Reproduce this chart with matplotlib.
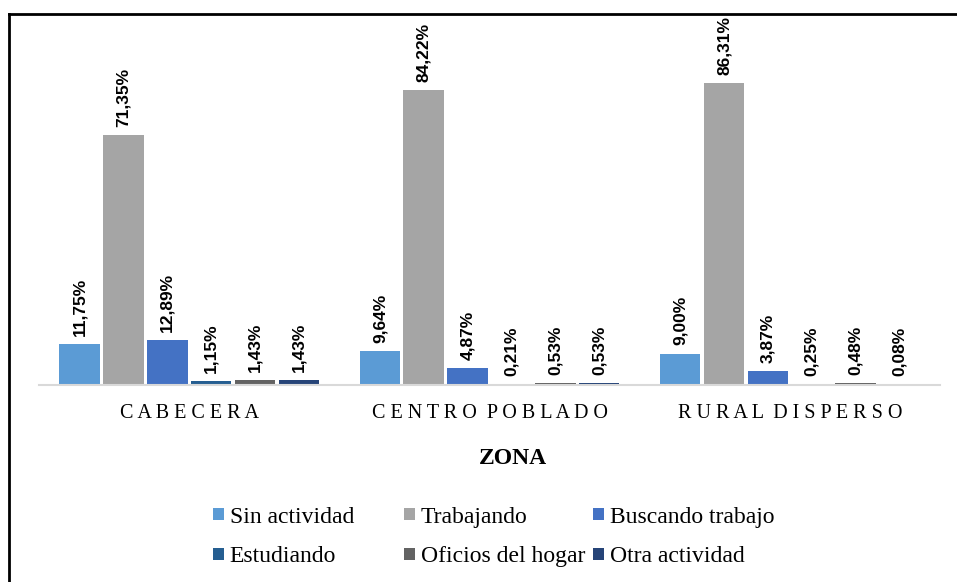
import matplotlib
matplotlib.use('Agg')
import matplotlib.pyplot as plt
from matplotlib.lines import Line2D
from matplotlib.patches import Patch
import numpy as np

# ---- data ----
zonas = ["CABECERA", "CENTRO POBLADO", "RURAL DISPERSO"]
series = ["Sin actividad", "Trabajando", "Buscando trabajo",
          "Estudiando", "Oficios del hogar", "Otra actividad"]
sin_actividad = [11.75, 9.64, 9.00]
trabajando = [71.35, 84.22, 86.31]
buscando_trabajo = [12.89, 4.87, 3.87]
estudiando = [1.15, 0.21, 0.25]
oficios_hogar = [1.43, 0.53, 0.48]
otra_actividad = [1.43, 0.53, 0.08]
values = [sin_actividad, trabajando, buscando_trabajo,
          estudiando, oficios_hogar, otra_actividad]
colors = ["#5B9BD5", "#A5A5A5", "#4472C4", "#255E91", "#636363", "#264478"]

W, H = 957, 582
fig = plt.figure(figsize=(W / 100, H / 100), dpi=100)
fig.patch.set_facecolor('white')
ax = fig.add_axes([39 / W, 1 - 385 / H, 901 / W, 350 / H])

x = np.arange(len(zonas))
slot = 0.146
bw = 0.135
handles = []
for i, (vals, c, name) in enumerate(zip(values, colors, series)):
    pos = x + (i - 2.5) * slot
    bars = ax.bar(pos, vals, bw, color=c, label=name)
    handles.append(Patch(facecolor=c, edgecolor='none', label=name))
    for b, v in zip(bars, vals):
        ax.annotate(f"{v:.2f}%".replace('.', ','),
                    (b.get_x() + b.get_width() / 2, v),
                    xytext=(0, 6), textcoords='offset points',
                    rotation=90, ha='center', va='bottom',
                    fontsize=12.5, fontweight='bold', family='Liberation Sans')

ax.set_xlim(-0.5, 2.5)
ax.set_ylim(0, 100)
ax.set_yticks([])
for s in ['top', 'right', 'left']:
    ax.spines[s].set_visible(False)
ax.spines['bottom'].set_color('#D9D9D9')
ax.spines['bottom'].set_linewidth(1.5)


def spaced(s):
    return '  '.join(' '.join(w) for w in s.split())


ax.set_xticks(x)
ax.set_xticklabels([spaced(z) for z in zonas], family='Liberation Serif', fontsize=14.5)
ax.tick_params(axis='x', length=0, pad=13.5)
ax.set_facecolor('white')

fig.text(513 / W, 1 - 458 / H, "ZONA", ha='center', va='center',
         fontsize=17, fontweight='bold', family='Liberation Serif')

# legends, one per column
cols = [(213, [0, 3]), (404, [1, 4]), (593, [2, 5])]
for xp, idx in cols:
    fig.legend(handles=[handles[k] for k in idx], loc='center left',
               bbox_to_anchor=(xp / W, 1 - 537 / H), frameon=False,
               borderpad=0, borderaxespad=0, handlelength=0.45,
               handleheight=0.45, handletextpad=0.25, labelspacing=0.8,
               prop={'family': 'Liberation Serif', 'size': 17})

# outer frame (left and top visible)
fig.add_artist(Line2D([9 / W, 9 / W], [0, 1 - 14 / H], transform=fig.transFigure,
                      color='black', lw=2))
fig.add_artist(Line2D([9 / W, 1], [1 - 14 / H, 1 - 14 / H], transform=fig.transFigure,
                      color='black', lw=2))

fig.savefig('out.png', dpi=100, facecolor='white')
